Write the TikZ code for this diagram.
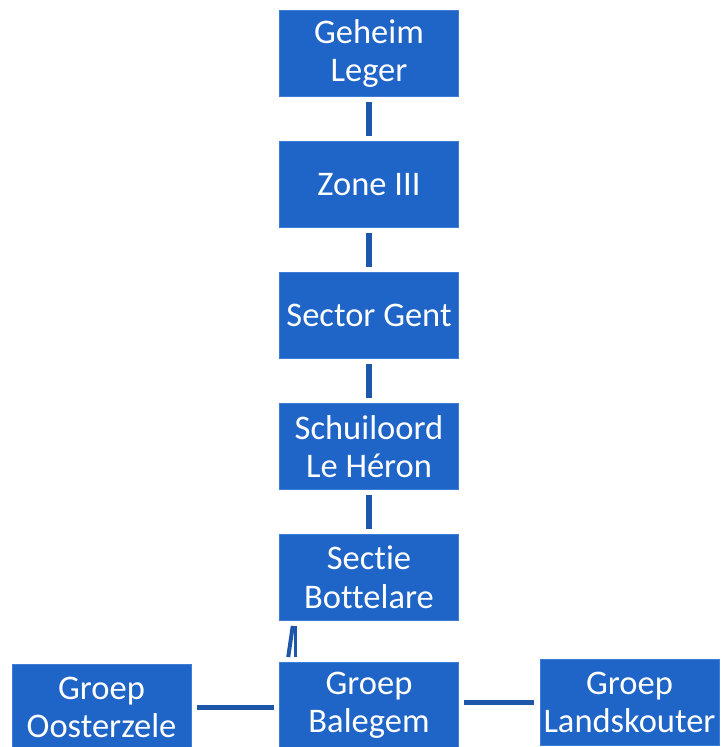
\documentclass[tikz,border=0pt]{standalone}
\usepackage{fontspec}
\setmainfont{Carlito}[Ligatures=NoCommon]
\definecolor{boxblue}{RGB}{31,100,199}
\definecolor{boxedge}{RGB}{60,125,215}
\definecolor{linkblue}{RGB}{30,87,170}
\tikzset{
  orgbox/.style={draw=boxedge, line width=0.8pt, fill=boxblue, text=white,
    minimum width=179pt, minimum height=86pt, inner sep=0pt, align=center,
    font=\fontsize{34.5}{38.5}\selectfont},
  link/.style={draw=linkblue, line width=5.5pt, shorten >=5.5pt, shorten <=5.5pt},
}
\begin{document}
\begin{tikzpicture}[x=1pt,y=-1pt]
\useasboundingbox (0,0) rectangle (722,747);
\clip (0,0) rectangle (722,747);
\node[orgbox] (geheim) at (369,53.5) {Geheim\\Leger};
\node[orgbox] (zone) at (369,184.5) {Zone III};
\node[orgbox] (sector) at (369,315.5) {Sector Gent};
\node[orgbox] (schuil) at (369,446.5) {Schuiloord\\Le Héron};
\node[orgbox] (sectie) at (369,577.5) {Sectie\\Bottelare};
\node[orgbox] (balegem) at (369,705.5) {Groep\\Balegem};
\node[orgbox] (oost) at (101.5,707.5) {Groep\\Oosterzele};
\node[orgbox] (land) at (629.5,702.5) {Groep\\Landskouter};
\draw[link] (geheim.south) -- (zone.north);
\draw[link] (zone.south) -- (sector.north);
\draw[link] (sector.south) -- (schuil.north);
\draw[link] (schuil.south) -- (sectie.north);
\draw[link] (oost.east) -- (oost.east -| balegem.west);
\draw[link] (balegem.east |- land.west) -- (land.west);
\coordinate (s1) at (295.5,621);
\coordinate (s2) at (295.5,662);
\coordinate (t1) at (293.5,621);
\coordinate (t2) at (287.5,662);
\draw[draw=linkblue, line width=3.5pt, shorten >=5pt, shorten <=5pt] (s1) -- (s2);
\draw[draw=linkblue, line width=4pt, shorten >=5pt, shorten <=5pt] (t1) -- (t2);
\end{tikzpicture}
\end{document}
